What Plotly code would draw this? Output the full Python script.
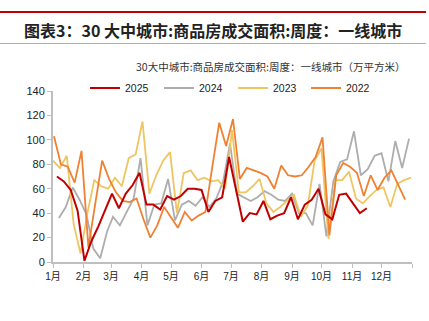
import pandas as pd
import plotly.graph_objects as go

# ---- data (万平方米, weekly) ----
years = ["2025", "2024", "2023", "2022"]
start_dates = {"2025": "2025-01-05", "2024": "2024-01-07", "2023": "2023-01-01", "2022": "2022-01-02"}
v2025 = [70, 66, 59, 42, 1, 17, 29, 42, 56, 44, 56, 63, 73, 47, 47, 43, 54, 51, 54, 60,
         60, 59, 41, 50, 53, 86, 58, 33, 40, 39, 50, 35, 38, 40, 53, 35, 47, 51, 60, 39,
         35, 55, 56, 48, 40, 44]
v2024 = [36, 45, 61, 51, 39, 11, 3, 25, 37, 30, 41, 52, 85, 30, 47, 48, 68, 34, 47, 50,
         46, 53, 45, 52, 66, 97, 56, 53, 50, 53, 58, 55, 51, 50, 56, 40, 40, 30, 64, 21,
         66, 82, 84, 107, 71, 76, 87, 89, 66, 99, 77, 101]
v2023 = [83, 77, 87, 31, 7, 40, 67, 62, 60, 69, 62, 85, 88, 115, 56, 71, 83, 90, 40, 73,
         75, 67, 69, 66, 67, 60, 108, 57, 57, 62, 68, 48, 41, 45, 50, 55, 37, 46, 83, 93,
         19, 67, 67, 74, 52, 48, 54, 59, 61, 45, 64, 67, 69]
v2022 = [103, 80, 78, 65, 91, 12, 48, 83, 68, 57, 50, 49, 52, 35, 20, 30, 45, 37, 28, 41,
         34, 38, 41, 78, 114, 95, 117, 68, 77, 75, 73, 70, 60, 79, 71, 70, 71, 78, 86, 102,
         22, 71, 81, 78, 73, 54, 71, 59, 69, 75, 63, 51]
values = {"2025": v2025, "2024": v2024, "2023": v2023, "2022": v2022}
month_labels = ["1月", "2月", "3月", "4月", "5月", "6月", "7月", "8月", "9月", "10月", "11月", "12月", ""]
month_start_days = [0, 31, 59, 90, 120, 151, 181, 212, 243, 273, 304, 334, 365]

colors = {"2025": "#C00000", "2024": "#ADADAD", "2023": "#EEC561", "2022": "#EF8133"}
widths = {"2025": 2.0, "2024": 1.8, "2023": 1.8, "2022": 1.8}
draw_order = ["2024", "2023", "2022", "2025"]
legend_ids = {"2025": "legend", "2024": "legend2", "2023": "legend3", "2022": "legend4"}
legend_line_start = {"2025": 91, "2024": 165, "2023": 239, "2022": 312}


def day_of_year(dates):
    d = pd.DatetimeIndex(dates)
    doy = d.dayofyear - 1
    leap_shift = (d.is_leap_year & (d.month > 2)).astype(int)
    return list(doy - leap_shift)


W, H = 429, 321
ML, MR, MT, MB = 53, 17, 91, 59
PW, PH = W - ML - MR, H - MT - MB


def px_x(p):
    return (p - ML) / PW


def px_y(p):
    return (H - MB - p) / PH


fig = go.Figure()
for y in draw_order:
    vals = values[y]
    dates = pd.date_range(start_dates[y], periods=len(vals), freq="7D")
    fig.add_trace(go.Scatter(
        x=day_of_year(dates), y=vals, mode="lines", name=y,
        line=dict(color=colors[y], width=widths[y]),
        legend=legend_ids[y],
    ))

axis_col = "#BFBFBF"
font_fam = "Liberation Sans, Arial, Noto Sans CJK SC, sans-serif"
legend_layout = {}
for y in years:
    legend_layout[legend_ids[y]] = dict(
        orientation="h", x=px_x(legend_line_start[y] - 6), y=px_y(88),
        xanchor="left", yanchor="middle", font=dict(size=10.5, color="#222"),
        bgcolor="rgba(0,0,0,0)", itemwidth=30)

fig.update_layout(
    width=W, height=H,
    margin=dict(l=ML, r=MR, t=MT, b=MB),
    paper_bgcolor="white", plot_bgcolor="white",
    font=dict(family=font_fam, size=11, color="#222"),
    showlegend=True,
    xaxis=dict(range=[0, 365], tickmode="array", tickvals=month_start_days,
               ticktext=month_labels, showgrid=False, zeroline=False,
               showline=True, linecolor=axis_col, linewidth=2,
               ticks="outside", ticklen=4, tickcolor=axis_col, tickwidth=1,
               tickfont=dict(size=10, color="#222")),
    yaxis=dict(range=[0, 140], tickmode="linear", dtick=20, showgrid=False,
               zeroline=False, showline=True, linecolor=axis_col, linewidth=2,
               ticks="outside", ticklen=4, tickcolor=axis_col, tickwidth=1,
               tickfont=dict(size=11, color="#222")),
    **legend_layout,
)

# header decorations
fig.add_shape(type="line", xref="paper", yref="paper", x0=px_x(0), x1=px_x(426),
              y0=px_y(12), y1=px_y(12), line=dict(color="#C00000", width=2.2))
fig.add_shape(type="line", xref="paper", yref="paper", x0=px_x(0), x1=px_x(426),
              y0=px_y(43.5), y1=px_y(43.5), line=dict(color="#E39A9A", width=1))

fig.add_annotation(text="<b>图表3：30 大中城市:商品房成交面积:周度：一线城市</b>",
                   xref="paper", yref="paper", x=px_x(22), y=px_y(30),
                   xanchor="left", yanchor="middle", showarrow=False,
                   font=dict(family="Noto Sans CJK SC, sans-serif", size=16, color="#222"))
fig.add_annotation(text="30大中城市:商品房成交面积:周度：一线城市（万平方米）",
                   xref="paper", yref="paper", x=px_x(408), y=px_y(66.5),
                   xanchor="right", yanchor="middle", showarrow=False,
                   font=dict(family="Noto Sans CJK SC, sans-serif", size=10.5, color="#333"))

fig.write_html("out.html")
